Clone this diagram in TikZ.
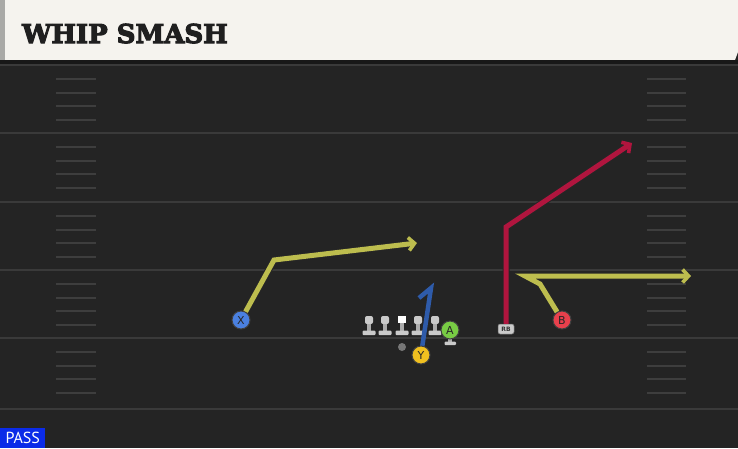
\documentclass[tikz,border=0pt]{standalone}
\usepackage{fontspec}
\setmainfont{DejaVu Sans}
\newfontfamily\titlefont{DejaVu Serif}[FakeBold=4]
\newfontfamily\passfont{PT Sans}
\usetikzlibrary{arrows.meta}
\definecolor{field}{HTML}{242424}
\definecolor{cream}{HTML}{F5F3EE}
\definecolor{strip}{HTML}{A9A9A6}
\definecolor{band}{HTML}{181818}
\definecolor{yardc}{HTML}{3A3A3A}
\definecolor{hashc}{HTML}{3E3E3E}
\definecolor{ryellow}{HTML}{BDBD4E}
\definecolor{rred}{HTML}{B0153E}
\definecolor{rblue}{HTML}{2E5BAA}
\definecolor{xblue}{HTML}{4A80E0}
\definecolor{bred}{HTML}{E8404C}
\definecolor{agreen}{HTML}{78CC44}
\definecolor{yyellow}{HTML}{F0C020}
\definecolor{lmgray}{HTML}{CACACA}
\definecolor{qbgray}{HTML}{777777}
\definecolor{passblue}{HTML}{0B2BE8}
\tikzset{
  yard/.style={draw=yardc, line width=2pt},
  hash/.style={draw=hashc, line width=1.8pt},
  route/.style={line width=5pt, line join=miter,
    preaction={draw=black!85, line width=7pt}},
  tip/.style={-{Straight Barb[length=6pt,width=13pt,line width=3.6pt]}},
  player/.style={circle, minimum size=18pt, inner sep=0pt, draw=black!75,
    line width=1pt, text=black!85, font=\fontsize{11}{11}\selectfont},
  rbbox/.style={rounded corners=2pt, fill=lmgray, draw=black!60, line width=0.5pt,
    minimum width=16pt, minimum height=10pt, inner sep=0pt,
    text=black!80, font=\bfseries\fontsize{6}{6}\selectfont},
  lineman/.pic={
    \fill[lmgray, rounded corners=2pt] (-4,-19) rectangle (4,-11);
    \fill[lmgray!85!black] (-2.2,-11) rectangle (2.2,-4);
    \fill[lmgray, rounded corners=1pt] (-6.5,-4.5) rectangle (6.5,0);
  },
  centerman/.pic={
    \fill[white] (-4,-19) rectangle (4,-12);
    \fill[lmgray!85!black] (-2.2,-12) rectangle (2.2,-4);
    \fill[lmgray, rounded corners=1pt] (-6.5,-4.5) rectangle (6.5,0);
  }
}
\begin{document}
\begin{tikzpicture}[x=1pt,y=-1pt]
\useasboundingbox (0,0) rectangle (738,448);
\fill[field] (0,0) rectangle (738,448);
% header
\fill[cream] (0,0) -- (738,0) -- (738,52) -- (735,60) -- (0,60) -- cycle;
\fill[strip] (0,0) rectangle (5,60);
\fill[band] (0,60) rectangle (738,64);
\node[anchor=base west, text=black!88, inner sep=0pt,
  font=\titlefont\bfseries\fontsize{26}{26}\selectfont] (title) at (22,43) {WHIP SMASH};
% yard lines and hashes
\foreach \yy in {65,133,202,270,338,409} \draw[yard] (0,\yy) -- (738,\yy);
\foreach \yy in {65,133,202,270,338} {
  \foreach \o in {14,28,41,55} {
    \draw[hash] (56,\yy+\o) -- (96,\yy+\o);
    \draw[hash] (647,\yy+\o) -- (686,\yy+\o);
  }
}
% offensive line
\coordinate (lt) at (369,335);
\coordinate (lg) at (385,335);
\coordinate (cc) at (402,335);
\coordinate (rg) at (418,335);
\coordinate (rt) at (435,335);
\pic at (lt) {lineman};
\pic at (lg) {lineman};
\pic at (cc) {centerman};
\pic at (rg) {lineman};
\pic at (rt) {lineman};
\node[circle, fill=qbgray, minimum size=8pt, inner sep=0pt] (qb) at (402,347) {};
% A
\fill[lmgray!85!black] (448,338) rectangle (452,342);
\fill[lmgray, rounded corners=1pt] (444.5,341.5) rectangle (456,345);
\node[player, fill=agreen] (A) at (450,330) {A};
% players
\node[player, fill=xblue] (X) at (241,320) {X};
\node[player, fill=bred] (B) at (562,320) {B};
\node[rbbox] (RB) at (506,329) {RB};
% routes
\coordinate (x1) at (274,260);
\coordinate (x2) at (417,243);
\draw[route, ryellow, tip] (X) -- (x1) -- (x2);
\coordinate (r1) at (506,227);
\coordinate (r2) at (632,143);
\draw[route, rred, tip] (RB.north) -- (r1) -- (r2);
\coordinate (b1) at (540,284);
\coordinate (b2) at (525,276);
\coordinate (b3) at (691,276);
\draw[route, ryellow, tip] (B) -- (b1) -- (b2) -- (b3);
\coordinate (y0) at (422,348);
\coordinate (y1) at (431,288);
\coordinate (y2) at (419,298);
\draw[rblue, line width=4.5pt, line join=miter] (y0) -- (y1) -- (y2);
\node[player, fill=yyellow] (Y) at (421,355) {Y};
% pass tag
\node[fill=passblue, text=white, anchor=south west, minimum width=45pt,
  minimum height=20pt, inner sep=0pt,
  font=\passfont\fontsize{16}{16}\selectfont] (pass) at (0,448) {PASS};
\end{tikzpicture}
\end{document}
